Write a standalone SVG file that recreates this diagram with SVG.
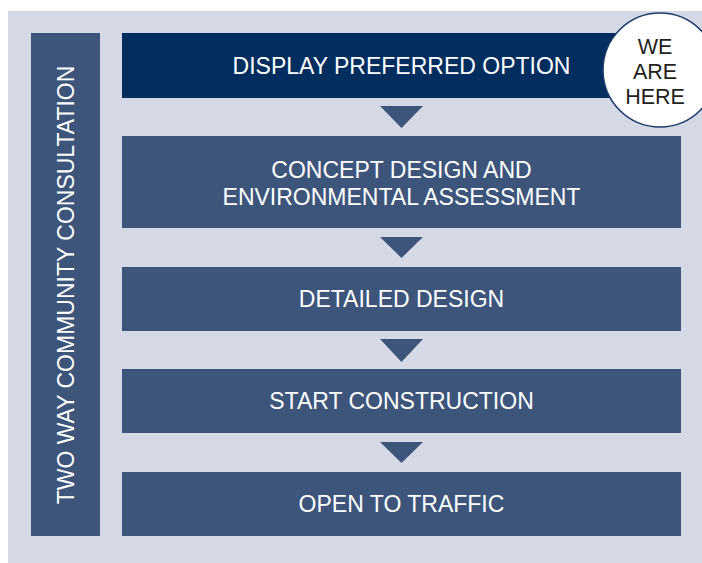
<svg xmlns="http://www.w3.org/2000/svg" width="702" height="563" viewBox="0 0 702 563">
  <style>
    .box { fill: #3d557b; }
    .top { fill: #012d5f; }
    .lbl { font-family: "Liberation Sans", Arial, sans-serif; font-size: 23px; fill: #ffffff; text-anchor: middle; }
    .here { font-family: "Liberation Sans", Arial, sans-serif; font-size: 21.5px; fill: #231f20; text-anchor: middle; }
    .arrow { fill: #3d557b; }
  </style>
  <rect x="8" y="11" width="694" height="552" fill="#d5d9e5"/>
  <g id="side">
    <rect class="box" x="31" y="33" width="69" height="503"/>
    <text class="lbl" transform="translate(74,285) rotate(-90)">TWO WAY COMMUNITY CONSULTATION</text>
  </g>
  <g id="n1">
    <rect class="top" x="122" y="33" width="559" height="65"/>
    <text class="lbl" x="401.5" y="74">DISPLAY PREFERRED OPTION</text>
  </g>
  <g id="marker">
    <circle cx="660" cy="70" r="57" fill="#ffffff" stroke="#1c3d6b" stroke-width="1.6"/>
    <text class="here" x="655" y="54">WE</text>
    <text class="here" x="655" y="79">ARE</text>
    <text class="here" x="655" y="104">HERE</text>
  </g>
  <g id="n2">
    <rect class="box" x="122" y="136" width="559" height="92"/>
    <text class="lbl" x="401.5" y="178">CONCEPT DESIGN AND</text>
    <text class="lbl" x="401.5" y="205">ENVIRONMENTAL ASSESSMENT</text>
  </g>
  <g id="n3">
    <rect class="box" x="122" y="267" width="559" height="64"/>
    <text class="lbl" x="401.5" y="307">DETAILED DESIGN</text>
  </g>
  <g id="n4">
    <rect class="box" x="122" y="369" width="559" height="64"/>
    <text class="lbl" x="401.5" y="409">START CONSTRUCTION</text>
  </g>
  <g id="n5">
    <rect class="box" x="122" y="472" width="559" height="64"/>
    <text class="lbl" x="401.5" y="512">OPEN TO TRAFFIC</text>
  </g>
  <g id="connectors">
    <polygon class="arrow" points="380,106 423,106 401.5,128"/>
    <polygon class="arrow" points="380,237 423,237 401.5,258"/>
    <polygon class="arrow" points="380,339 423,339 401.5,362"/>
    <polygon class="arrow" points="380,442 423,442 401.5,463"/>
  </g>
</svg>
